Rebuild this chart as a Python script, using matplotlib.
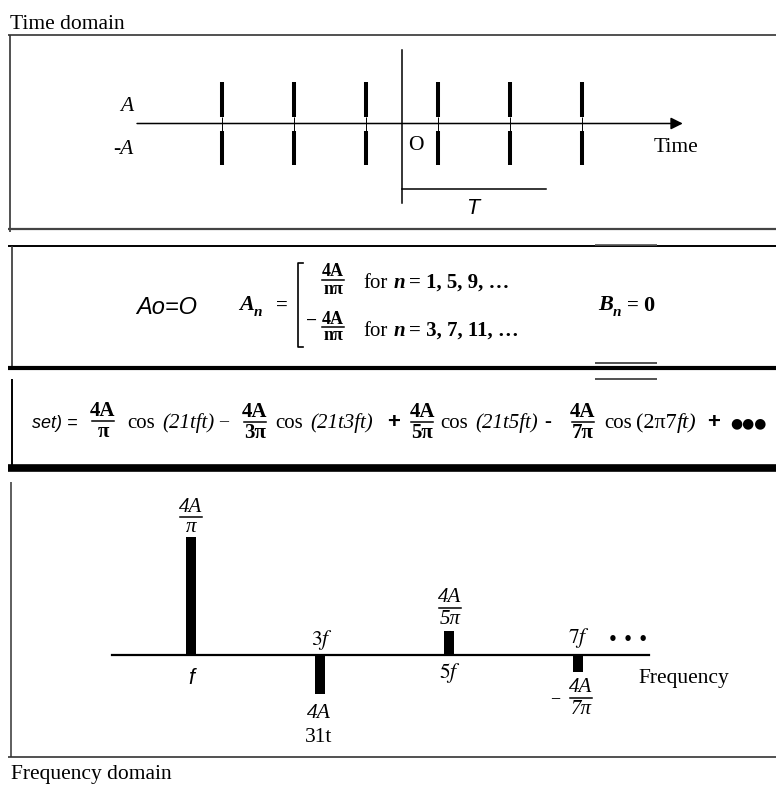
import matplotlib
matplotlib.use("Agg")
import matplotlib.pyplot as plt

W, H = 776, 786

# time domain: edges of the square wave, in periods (T = 1), level +/-A
edge_times = [-1.25, -0.75, -0.25, 0.25, 0.75, 1.25]
period = 1.0
level = 1.0

# frequency domain: harmonic number and amplitude in units of 4A/pi
harmonics = [1, 3, 5, 7]
amplitudes = [1.0, -0.333, 0.2, -0.143]

plt.rcParams['font.family'] = ['Liberation Serif', 'DejaVu Serif']
plt.rcParams['mathtext.fontset'] = 'stix'

fig = plt.figure(figsize=(W / 100, H / 100), dpi=100)

# overlay in pixel coordinates for frames and text
ov = fig.add_axes([0, 0, 1, 1])
ov.set_xlim(0, W)
ov.set_ylim(H, 0)
ov.axis('off')


def px_axes(x0, y0, x1, y1):
    a = fig.add_axes([x0 / W, 1 - y1 / H, (x1 - x0) / W, (y1 - y0) / H])
    a.axis('off')
    a.patch.set_alpha(0)
    return a


def hline(y, x0, x1, lw=1.1, color='k'):
    ov.plot([x0, x1], [y, y], color=color, lw=lw, solid_capstyle='butt')


def vline(x, y0, y1, lw=1.1, color='k'):
    ov.plot([x, x], [y0, y1], color=color, lw=lw, solid_capstyle='butt')


def txt(x, y, s, size=15.5, ha='center', va='baseline', **kw):
    ov.text(x, y, s, fontsize=size, ha=ha, va=va, **kw)


def frac(x, ybar, num, den, size=15, barw=22, gap=10, lw=1.1, **kw):
    ov.text(x, ybar - gap, num, fontsize=size, ha='center', va='center', **kw)
    ov.text(x, ybar + gap + 1, den, fontsize=size, ha='center', va='center', **kw)
    ov.plot([x - barw / 2, x + barw / 2], [ybar, ybar], color='k', lw=lw)


# ---- frames
txt(10, 29, 'Time domain', ha='left')
hline(35, 8, W, lw=1.2, color='#333333')
vline(10, 35, 232, lw=1.2, color='#333333')
hline(229, 8, W, lw=1.6, color='#444444')

hline(246, 8, W, lw=1.4)
vline(12, 246, 366, lw=1.2, color='#333333')
hline(368, 8, W, lw=3.0)

vline(12, 379, 465, lw=1.4)
hline(468, 8, W, lw=5.5)

vline(11, 482, 757, lw=1.1, color='#333333')
hline(757, 8, W, lw=1.2, color='#333333')
txt(11, 779, 'Frequency domain', ha='left')

# ---- time domain plot
ta = px_axes(100, 40, 700, 215)
ta.set_xlim((100 - 402) / 144, (700 - 402) / 144)
ta.set_ylim(-(215 - 123.5) / 41.5, (123.5 - 40) / 41.5)
ta.annotate('', xy=(1.95, 0), xytext=(-1.84, 0),
            arrowprops=dict(arrowstyle='-|>', lw=1.1, color='k',
                            mutation_scale=18, shrinkA=0, shrinkB=0))
ta.vlines(edge_times, 0.16 * level, level, color='k', lw=2.9)
ta.vlines(edge_times, -level, -0.18 * level, color='k', lw=2.9)
ta.vlines(edge_times, -0.18 * level, 0.16 * level, color='k', lw=0.7)
ta.plot([0, 0], [1.77, -1.92], color='k', lw=1.1)
ta.plot([0, period], [-1.58, -1.58], color='k', lw=1.1)

txt(127, 111, 'A', style='italic')
txt(123, 154, '-A', style='italic')
txt(416, 150, 'O')
txt(676, 152, 'Time')
txt(473, 214, 'T', style='italic', family='Liberation Sans')

# ---- coefficients box
txt(167, 314, 'Ao=O', style='italic', family='Liberation Sans', size=17)
txt(247, 310, 'A', style='italic', weight='bold', size=16)
txt(258, 316, 'n', style='italic', weight='bold', size=11)
txt(282, 311, '=', weight='bold', size=15)
ov.plot([303, 298, 298, 303], [263, 263, 347, 347], color='k', lw=1.2)
frac(333, 280, '4A', 'nπ', size=13, barw=22, gap=8, weight='bold')
txt(363, 288, 'for', ha='left', size=15)
txt(394, 288, 'n', ha='left', size=15, style='italic', weight='bold')
txt(409, 288, '= 1, 5, 9, …', ha='left', size=15, weight='bold')
txt(312, 326, '−', size=14, weight='bold')
frac(333, 327, '4A', 'nπ', size=13, barw=22, gap=8, weight='bold')
txt(363, 336, 'for', ha='left', size=15)
txt(394, 336, 'n', ha='left', size=15, style='italic', weight='bold')
txt(409, 336, '= 3, 7, 11, …', ha='left', size=15, weight='bold')
txt(606, 310, 'B', style='italic', weight='bold', size=16)
txt(617, 316, 'n', style='italic', weight='bold', size=11)
txt(633, 311, '=', weight='bold', size=15)
txt(649, 311, '0', weight='bold', size=16)
hline(245, 595, 657, lw=1.2, color='#555555')
hline(363, 595, 657, lw=1.2, color='#333333')
hline(379, 595, 657, lw=1.2, color='#333333')

# ---- series box
yb = 428
txt(32, yb, 'set) =', ha='left', style='italic', family='Liberation Sans', size=13)
frac(103, 421, '4A', 'π', size=15, weight='bold')
txt(127, yb, 'cos', ha='left', size=15)
txt(162, yb, '(21tft)', ha='left', size=15, style='italic')
txt(224, yb - 2, '–', size=13)
frac(255, 422, '4A', '3π', size=15, weight='bold')
txt(275, yb, 'cos', ha='left', size=15)
txt(310, yb, '(21t3ft)', ha='left', size=15, style='italic')
txt(394, yb, '+', size=16, weight='bold', family='Liberation Sans')
frac(422, 422, '4A', '5π', size=15, weight='bold')
txt(440, yb, 'cos', ha='left', size=15)
txt(475, yb, '(21t5ft)', ha='left', size=15, style='italic')
txt(548, yb - 1, '-', size=15)
frac(583, 422, '4A', '7π', size=15, weight='bold')
txt(604, yb, 'cos', ha='left', size=15)
txt(636, yb, '(2π7', ha='left', size=16)
txt(677, yb, 'ft)', ha='left', size=16, style='italic')
txt(714, yb, '+', size=16, weight='bold', family='Liberation Sans')
txt(748, yb - 1, '●●●', size=10, family='DejaVu Sans')

# ---- frequency domain plot
fa = px_axes(100, 525, 660, 700)
fa.set_xlim((100 - 126.5) / 64.5, (660 - 126.5) / 64.5)
fa.set_ylim(-(700 - 655) / 118, (655 - 525) / 118)
fa.plot([(112 - 126.5) / 64.5, (649 - 126.5) / 64.5], [0, 0], color='k', lw=1.6)
fa.bar(harmonics, amplitudes, width=0.14, color='k', edgecolor='none')

frac(191, 517, '4A', 'π', size=15, gap=10, style='italic')
txt(191, 678, 'f', va='center', style='italic', family='Liberation Sans')
txt(322, 640, '$3f$', va='center')
txt(319, 713, '4A', va='center', style='italic')
txt(319, 737, '31t', va='center')
frac(450, 608, '4A', '5π', size=15, gap=11, style='italic')
txt(450, 673, '$5f$', va='center')
txt(579, 638, '$7f$', va='center')
txt(628, 640, '• • •', va='center', size=11, weight='bold', family='DejaVu Sans')
txt(555, 699, '−', va='center', size=13)
frac(581, 698, '4A', '7π', size=15, gap=11, style='italic')
txt(638, 683, 'Frequency', ha='left')

fig.savefig('out.png', dpi=100)
